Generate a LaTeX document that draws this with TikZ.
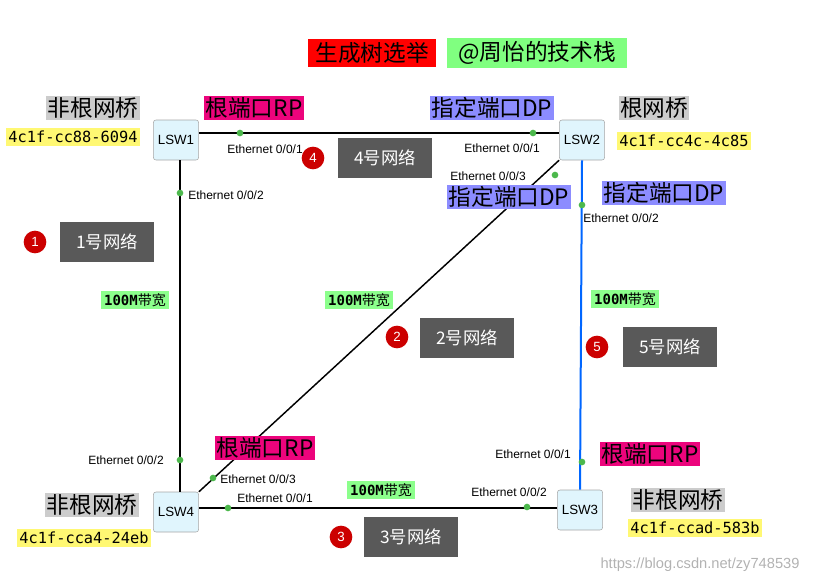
\documentclass[tikz,border=0pt]{standalone}
\usepackage{fontspec}
\setmainfont{Noto Sans CJK SC}
\newfontfamily\monof{DejaVu Sans Mono}
\newfontfamily\smallf{Liberation Sans}
\begin{document}
\begin{tikzpicture}[x=0.75pt,y=-0.75pt,
 sw/.style={draw=gray!70,fill=cyan!12,rounded corners=2pt,minimum width=34pt,minimum height=30pt,font=\smallf\fontsize{10}{11}\selectfont},
 lab/.style={inner sep=1pt,font=\fontsize{17}{19}\selectfont},
 gr/.style={lab,fill=gray!40},
 rp/.style={lab,fill=magenta!85!red},
 dp/.style={lab,fill=blue!45!white},
 mac/.style={fill=yellow!55,font=\monof\fontsize{11.5}{13}\selectfont,inner sep=2pt},
 bw/.style={fill=green!45,font=\fontsize{10.5}{12}\selectfont,inner sep=2pt},
 eth/.style={font=\smallf\fontsize{9}{10}\selectfont,inner sep=0pt},
 net/.style={fill=black!65,text=white,minimum width=71pt,minimum height=30pt,font=\fontsize{13}{15}\selectfont},
 num/.style={circle,fill=red!80!black,text=white,minimum size=17pt,inner sep=0pt,font=\smallf\fontsize{10}{11}\selectfont},
 pt/.style={circle,fill=green!60!black!70,inner sep=0pt,minimum size=5pt},
 ln/.style={line width=1.1pt}]
\useasboundingbox (0,0) rectangle (817,582);
\node[fill=red,lab,minimum width=96pt,minimum height=21pt] (t1) at (372,53) {生成树选举};
\node[fill=green!50,lab,minimum width=135pt,minimum height=22pt] (t2) at (537,53) {@周怡的技术栈};
\node[sw] (s1) at (176,140) {LSW1};
\node[sw] (s2) at (582,140) {LSW2};
\node[sw] (s4) at (176,512) {LSW4};
\node[sw] (s3) at (580,510) {LSW3};
\draw[ln] (s1.east|-0,133) -- (s2.west|-0,133);
\draw[ln] (s1.south-|180,0) -- (s4.north-|180,0);
\draw[ln] (s2.south west) -- (s4.north east);
\draw[ln,blue!60!cyan,line width=1.5pt] (s2.south) -- (s3.north);
\draw[ln] (s4.east|-0,508) -- (s3.west|-0,508);
\foreach \p/\q in {240/133,533/133,180/193,555/175,582/205,180/460,213/478,228/508,527/507,582/462}
 \node[pt] at (\p,\q) {};
\node[gr] (a1) at (93,108) {非根网桥};
\node[mac] (m1) at (73,137) {4c1f-cc88-6094};
\node[gr] (a2) at (654,108) {根网桥};
\node[mac] (m2) at (684,141) {4c1f-cc4c-4c85};
\node[gr] (a4) at (92,505) {非根网桥};
\node[mac] (m4) at (84,538) {4c1f-cca4-24eb};
\node[gr] (a3) at (678,500) {非根网桥};
\node[mac] (m3) at (695,528) {4c1f-ccad-583b};
\node[rp] (r1) at (254,108) {根端口RP};
\node[rp] (r4) at (265,448) {根端口RP};
\node[rp] (r3) at (650,454) {根端口RP};
\node[dp] (d1) at (492,108) {指定端口DP};
\node[dp] (d2) at (509,197) {指定端口DP};
\node[dp] (d3) at (664,193) {指定端口DP};
\node[bw] (b1) at (135,300) {{\monof\bfseries 100M}带宽};
\node[bw] (b2) at (359,300) {{\monof\bfseries 100M}带宽};
\node[bw] (b3) at (625,299) {{\monof\bfseries 100M}带宽};
\node[bw] (b4) at (381,490) {{\monof\bfseries 100M}带宽};
\node[eth] at (265,149) {Ethernet 0/0/1};
\node[eth] at (502,148) {Ethernet 0/0/1};
\node[eth] at (226,195) {Ethernet 0/0/2};
\node[eth] at (488,176) {Ethernet 0/0/3};
\node[eth] at (621,218) {Ethernet 0/0/2};
\node[eth] at (126,460) {Ethernet 0/0/2};
\node[eth] at (258,479) {Ethernet 0/0/3};
\node[eth] at (275,498) {Ethernet 0/0/1};
\node[eth] at (509,492) {Ethernet 0/0/2};
\node[eth] at (533,454) {Ethernet 0/0/1};
\node[net] (n1) at (107,242) {1号网络};
\node[num] at (35,242) {1};
\node[net] (n2) at (467,338) {2号网络};
\node[num] at (397,337) {2};
\node[net] (n3) at (411,537) {3号网络};
\node[num] at (341,537) {3};
\node[net] (n4) at (385,158) {4号网络};
\node[num] at (313,158) {4};
\node[net] (n5) at (670,347) {5号网络};
\node[num] at (597,347) {5};
\node[text=gray!60,font=\smallf\fontsize{11}{12}\selectfont] at (700,565) {https://blog.csdn.net/zy748539};
\end{tikzpicture}
\end{document}
